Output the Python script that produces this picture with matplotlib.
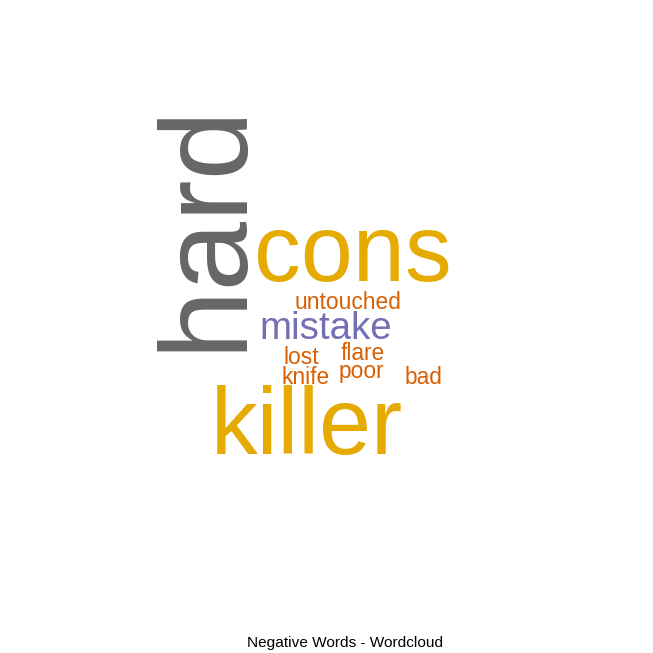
import matplotlib
matplotlib.use('Agg')
import matplotlib.pyplot as plt
import math

# word frequencies (negative words)
words = ['hard', 'cons', 'killer', 'mistake', 'untouched', 'lost', 'flare', 'knife', 'poor', 'bad']
freqs = [15, 11, 11, 4, 2, 2, 2, 2, 2, 2]
title = 'Negative Words - Wordcloud'

# Dark2 palette, picked by normalised frequency like R's wordcloud
palette = ['#1B9E77', '#D95F02', '#7570B3', '#E7298A',
           '#66A61E', '#E6AB02', '#A6761D', '#666666']

# placement of each word in the 653x653 canvas (ink centre x, baseline y, rotation)
layout = {
    'hard':      (239, 226, 90),
    'cons':      (353, 281, 0),
    'killer':    (307, 454, 0),
    'mistake':   (326, 339, 0),
    'untouched': (348, 309, 0),
    'lost':      (301.5, 364, 0),
    'flare':     (362.5, 360, 0),
    'knife':     (306, 384, 0),
    'poor':      (361, 378, 0),
    'bad':       (423, 384, 0),
}

DPI = 100
SIZE_MIN, SIZE_MAX = 7, 125   # em size in pixels

fig = plt.figure(figsize=(6.53, 6.53), dpi=DPI)
ax = fig.add_axes([0, 0, 1, 1])
ax.set_xlim(0, 653)
ax.set_ylim(653, 0)
ax.axis('off')

fmax = max(freqs)
for w, f in zip(words, freqs):
    normed = f / fmax
    px = SIZE_MIN + (SIZE_MAX - SIZE_MIN) * normed
    col = palette[math.ceil(len(palette) * normed) - 1]
    x, y, rot = layout[w]
    ax.text(x, y, w, fontsize=px * 72 / DPI, color=col, rotation=rot,
            rotation_mode='anchor', ha='center', va='baseline',
            family='Liberation Sans')

ax.text(345, 647, title, fontsize=15.4 * 72 / DPI, color='black',
        ha='center', va='baseline', family='Liberation Sans')

fig.savefig('out.png', dpi=DPI, facecolor='white')
plt.close(fig)
